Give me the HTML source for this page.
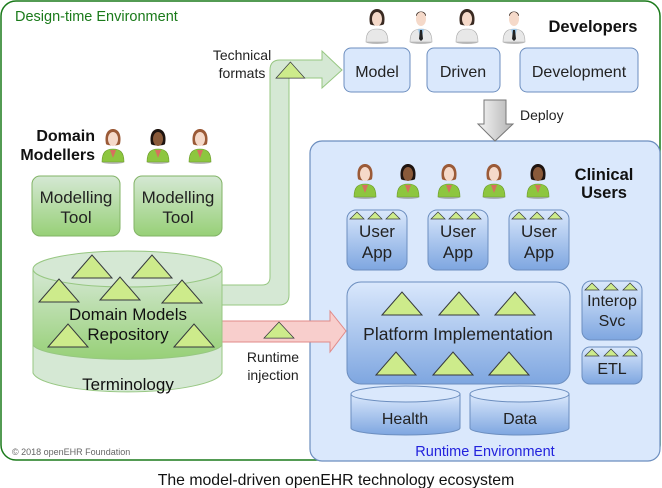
<!DOCTYPE html>
<html><head><meta charset="utf-8"><style>
html,body{margin:0;padding:0;background:#fff;}
svg{display:block;}
text{font-family:"Liberation Sans","DejaVu Sans",sans-serif;}
</style></head><body>
<svg width="662" height="488" viewBox="0 0 662 488" xmlns="http://www.w3.org/2000/svg">
<defs>
<linearGradient id="gg" x1="0" y1="0" x2="0" y2="1"><stop offset="0" stop-color="#d5e8d4"/><stop offset="1" stop-color="#97d077"/></linearGradient>
<linearGradient id="bg" x1="0" y1="0" x2="0" y2="1"><stop offset="0" stop-color="#dae8fc"/><stop offset="1" stop-color="#7ea6e0"/></linearGradient>
<linearGradient id="gray" x1="0" y1="0" x2="1" y2="0"><stop offset="0" stop-color="#f5f5f5"/><stop offset="1" stop-color="#b3b3b3"/></linearGradient>
<g id="tri"><polygon points="0,23 20,0 40,23" fill="#cdeb8b" stroke="#36393d" stroke-width="1"/></g>
<g id="st"><polygon points="0,7 7,0 14,7" fill="#cdeb8b" stroke="#36393d" stroke-width="0.7"/></g>
<g id="pf"><ellipse cx="13" cy="34" rx="11" ry="2" fill="#777" opacity="0.5"/><path d="M2,34 C2,24 6,21 13,21 C20,21 24,24 24,34 Z" fill="#8dc63f" stroke="#6a9a2a" stroke-width="0.6"/><path d="M10,22 L13,30 L16,22 Z" fill="#d7705f"/><path d="M6,16 C4,6 8,1 13,1 C18,1 22,6 20,16 C19,18 7,18 6,16 Z" fill="#9b5a37"/><ellipse cx="13" cy="11" rx="5" ry="7" fill="#f5d9c9"/></g>
<g id="pd"><ellipse cx="13" cy="34" rx="11" ry="2" fill="#777" opacity="0.5"/><path d="M2,34 C2,24 6,21 13,21 C20,21 24,24 24,34 Z" fill="#8dc63f" stroke="#6a9a2a" stroke-width="0.6"/><path d="M10,22 L13,30 L16,22 Z" fill="#d7705f"/><path d="M6,16 C4,6 8,1 13,1 C18,1 22,6 20,16 C19,18 7,18 6,16 Z" fill="#1e1410"/><ellipse cx="13" cy="11" rx="5" ry="7" fill="#8a5a3a"/></g>
<g id="wf"><ellipse cx="13" cy="34" rx="11" ry="2" fill="#777" opacity="0.5"/><path d="M2,34 C2,24 6,21 13,21 C20,21 24,24 24,34 Z" fill="#e8e8e8" stroke="#aaa" stroke-width="0.6"/><path d="M6,16 C4,6 8,1 13,1 C18,1 22,6 20,16 C19,18 7,18 6,16 Z" fill="#3a2a22"/><ellipse cx="13" cy="11" rx="5" ry="7" fill="#f5d9c9"/></g>
<g id="wm"><ellipse cx="13" cy="34" rx="11" ry="2" fill="#777" opacity="0.5"/><path d="M2,34 C2,24 6,21 13,21 C20,21 24,24 24,34 Z" fill="#e8e8e8" stroke="#aaa" stroke-width="0.6"/><path d="M10,21 L16,21 L13,33 Z" fill="#9ec8e8"/><path d="M12,22 L14,22 L15,31 L13,33 L11,31 Z" fill="#222"/><path d="M8,8 C8,2 18,2 18,8 Z" fill="#3a2a22"/><ellipse cx="13" cy="11" rx="5" ry="7" fill="#f5d9c9"/></g>
</defs>

<rect x="1" y="1" width="659" height="459" rx="15" fill="#fff" stroke="#1a7a1a" stroke-width="1.5"/>
<text x="15" y="21" font-size="14.5" fill="#1a7a1a">Design-time Environment</text>
<text x="12" y="455" font-size="9" fill="#666">© 2018 openEHR Foundation</text>

<rect x="310" y="141" width="350" height="320" rx="12" fill="#dae8fc" stroke="#6c8ebf" stroke-width="1.2"/>
<text x="485" y="456" font-size="14.5" fill="#2222dd" text-anchor="middle">Runtime Environment</text>

<path d="M222,285 L262,285 Q270,285 270,277 L270,70 Q270,60 280,60 L322,60 L322,51 L342,70 L322,88 L322,78 L289,78 L289,295 Q289,305 279,305 L222,305 Z" fill="#d5e8d4" stroke="#97c782" stroke-width="1"/>
<use href="#tri" transform="translate(276,62) scale(0.72,0.7)"/>
<text x="242" y="60" font-size="14" fill="#222" text-anchor="middle">Technical</text>
<text x="242" y="78" font-size="14" fill="#222" text-anchor="middle">formats</text>

<path d="M222,321 L330,321 L330,311 L346,331 L330,352 L330,342 L222,342 Z" fill="#f8cecc" stroke="#e08a88" stroke-width="1"/>
<use href="#tri" transform="translate(264,322) scale(0.75,0.7)"/>
<text x="273" y="362" font-size="14" fill="#222" text-anchor="middle">Runtime</text>
<text x="273" y="380" font-size="14" fill="#222" text-anchor="middle">injection</text>

<path d="M33,269 L33,373 A95,21 0 0 0 222,373 L222,269 Z" fill="#d5e8d4" stroke="#97c782"/>
<path d="M33,269 L33,345 A95,16 0 0 0 222,345 L222,269 Z" fill="url(#gg)" stroke="#97c782"/>
<ellipse cx="127.5" cy="269" rx="94.5" ry="18" fill="#d5e8d4" stroke="#97c782"/>
<use href="#tri" x="72" y="255"/><use href="#tri" x="132" y="255"/>
<use href="#tri" x="39" y="279"/><use href="#tri" x="100" y="277"/><use href="#tri" x="162" y="280"/>
<use href="#tri" x="48" y="324"/><use href="#tri" x="174" y="324"/>
<text x="128" y="320" font-size="17" fill="#111" text-anchor="middle">Domain Models</text>
<text x="128" y="340" font-size="17" fill="#111" text-anchor="middle">Repository</text>
<text x="128" y="390" font-size="17" fill="#111" text-anchor="middle">Terminology</text>

<text x="95" y="141" font-size="16" font-weight="bold" fill="#111" text-anchor="end">Domain</text>
<text x="95" y="160" font-size="16" font-weight="bold" fill="#111" text-anchor="end">Modellers</text>
<use href="#pf" x="100" y="128"/><use href="#pd" x="145" y="128"/><use href="#pf" x="187" y="128"/>
<rect x="32" y="176" width="88" height="60" rx="8" fill="url(#gg)" stroke="#82b366"/>
<rect x="134" y="176" width="88" height="60" rx="8" fill="url(#gg)" stroke="#82b366"/>
<text x="76" y="203" font-size="17" fill="#222" text-anchor="middle">Modelling</text>
<text x="76" y="223" font-size="17" fill="#222" text-anchor="middle">Tool</text>
<text x="178" y="203" font-size="17" fill="#222" text-anchor="middle">Modelling</text>
<text x="178" y="223" font-size="17" fill="#222" text-anchor="middle">Tool</text>

<use href="#wf" x="364" y="8"/><use href="#wm" x="408" y="8"/><use href="#wf" x="454" y="8"/><use href="#wm" x="501" y="8"/>
<text x="593" y="32" font-size="16.5" font-weight="bold" fill="#111" text-anchor="middle">Developers</text>
<rect x="344" y="48" width="66" height="44" rx="7" fill="#dae8fc" stroke="#6c8ebf"/>
<rect x="427" y="48" width="73" height="44" rx="7" fill="#dae8fc" stroke="#6c8ebf"/>
<rect x="520" y="48" width="118" height="44" rx="7" fill="#dae8fc" stroke="#6c8ebf"/>
<text x="377" y="77" font-size="16" fill="#222" text-anchor="middle">Model</text>
<text x="463" y="77" font-size="16" fill="#222" text-anchor="middle">Driven</text>
<text x="579" y="77" font-size="16" fill="#222" text-anchor="middle">Development</text>

<path d="M484,100 L506,100 L506,124 L513,124 L495,141 L478,124 L484,124 Z" fill="url(#gray)" stroke="#777"/>
<text x="520" y="120" font-size="14" fill="#222">Deploy</text>

<use href="#pf" x="352" y="163"/><use href="#pd" x="395" y="163"/><use href="#pf" x="436" y="163"/><use href="#pf" x="481" y="163"/><use href="#pd" x="525" y="163"/>
<text x="604" y="180" font-size="16.5" font-weight="bold" fill="#111" text-anchor="middle">Clinical</text>
<text x="604" y="198" font-size="16.5" font-weight="bold" fill="#111" text-anchor="middle">Users</text>

<g>
<rect x="347" y="210" width="60" height="60" rx="9" fill="url(#bg)" stroke="#6c8ebf"/>
<use href="#st" x="350" y="212"/><use href="#st" x="368" y="212"/><use href="#st" x="386" y="212"/>
<text x="377" y="237" font-size="17" fill="#222" text-anchor="middle">User</text>
<text x="377" y="258" font-size="17" fill="#222" text-anchor="middle">App</text>
<rect x="428" y="210" width="60" height="60" rx="9" fill="url(#bg)" stroke="#6c8ebf"/>
<use href="#st" x="431" y="212"/><use href="#st" x="449" y="212"/><use href="#st" x="467" y="212"/>
<text x="458" y="237" font-size="17" fill="#222" text-anchor="middle">User</text>
<text x="458" y="258" font-size="17" fill="#222" text-anchor="middle">App</text>
<rect x="509" y="210" width="60" height="60" rx="9" fill="url(#bg)" stroke="#6c8ebf"/>
<use href="#st" x="512" y="212"/><use href="#st" x="530" y="212"/><use href="#st" x="548" y="212"/>
<text x="539" y="237" font-size="17" fill="#222" text-anchor="middle">User</text>
<text x="539" y="258" font-size="17" fill="#222" text-anchor="middle">App</text>
</g>

<rect x="347" y="282" width="223" height="102" rx="14" fill="url(#bg)" stroke="#6c8ebf"/>
<use href="#tri" x="382" y="292"/><use href="#tri" x="439" y="292"/><use href="#tri" x="495" y="292"/>
<use href="#tri" x="376" y="352"/><use href="#tri" x="433" y="352"/><use href="#tri" x="489" y="352"/>
<text x="458" y="340" font-size="17.5" fill="#222" text-anchor="middle">Platform Implementation</text>

<rect x="582" y="281" width="60" height="59" rx="9" fill="url(#bg)" stroke="#6c8ebf"/>
<use href="#st" x="585" y="283"/><use href="#st" x="604" y="283"/><use href="#st" x="623" y="283"/>
<text x="612" y="306" font-size="16" fill="#222" text-anchor="middle">Interop</text>
<text x="612" y="326" font-size="16" fill="#222" text-anchor="middle">Svc</text>
<rect x="582" y="347" width="60" height="37" rx="8" fill="url(#bg)" stroke="#6c8ebf"/>
<use href="#st" x="585" y="349"/><use href="#st" x="604" y="349"/><use href="#st" x="623" y="349"/>
<text x="612" y="374" font-size="16" fill="#222" text-anchor="middle">ETL</text>

<path d="M351,394 L351,428 A54.5,7 0 0 0 460,428 L460,394 Z" fill="url(#bg)" stroke="#6c8ebf"/>
<ellipse cx="405.5" cy="394" rx="54.5" ry="8" fill="#dae8fc" stroke="#6c8ebf"/>
<text x="405" y="424" font-size="16" fill="#222" text-anchor="middle">Health</text>
<path d="M470,394 L470,428 A49.5,7 0 0 0 569,428 L569,394 Z" fill="url(#bg)" stroke="#6c8ebf"/>
<ellipse cx="519.5" cy="394" rx="49.5" ry="8" fill="#dae8fc" stroke="#6c8ebf"/>
<text x="520" y="424" font-size="16" fill="#222" text-anchor="middle">Data</text>

<text x="336" y="485" font-size="15.8" fill="#111" text-anchor="middle">The model-driven openEHR technology ecosystem</text>
</svg>
</body></html>
